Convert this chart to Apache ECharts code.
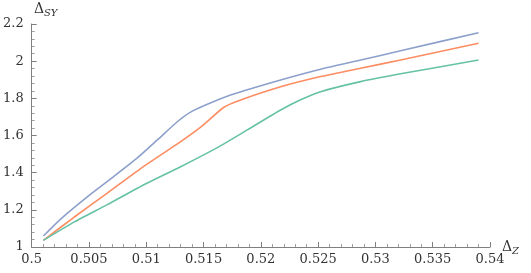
<!DOCTYPE html>
<html><head><meta charset="utf-8">
<script src="https://cdn.jsdelivr.net/npm/echarts@6/dist/echarts.min.js"></script>
<style>html,body{margin:0;padding:0;background:#fff}#c{width:531px;height:273px}</style>
</head><body><div id="c"></div>
<script>
const xTickLabels = ["0.5","0.505","0.51","0.515","0.52","0.525","0.53","0.535","0.54"];
const yTickLabels = ["1","1.2","1.4","1.6","1.8","2","2.2"];
const seriesNames = ["blue","orange","green"];
const blueX  = [0.50102,0.50253,0.50515,0.50718,0.50922,0.51097,0.51271,0.51387,0.51533,0.51736,0.52173,0.52522,0.52871,0.5322,0.539];
const blueY  = [1.059,1.150,1.284,1.380,1.479,1.576,1.674,1.726,1.768,1.818,1.899,1.957,2.006,2.056,2.153];
const orangeX = [0.50102,0.50369,0.5066,0.50951,0.513,0.51475,0.51678,0.51824,0.52173,0.52522,0.52871,0.5322,0.539];
const orangeY = [1.036,1.160,1.290,1.422,1.567,1.645,1.752,1.791,1.862,1.917,1.962,2.006,2.096];
const greenX = [0.50102,0.50369,0.5066,0.50951,0.513,0.5162,0.51882,0.52173,0.52347,0.52522,0.52871,0.5322,0.539];
const greenY = [1.036,1.134,1.228,1.326,1.432,1.535,1.630,1.737,1.792,1.836,1.890,1.932,2.006];
const colors = ["#8DA0CB","#FC8D62","#66C2A5"];

const zip = (xs, ys) => xs.map((x, i) => [x, ys[i]]);
const font = "DejaVu Serif";
const chart = echarts.init(document.getElementById('c'), null, {renderer: 'canvas'});
const axisCommon = {
  axisLine: {show: true, lineStyle: {color: '#7f7f7f', width: 1}},
  axisTick: {show: true, inside: true, length: 5, lineStyle: {color: '#7f7f7f'}},
  minorTick: {show: true, splitNumber: 5, length: 3, lineStyle: {color: '#9f9f9f'}},
  splitLine: {show: false},
  axisLabel: {color: '#333', fontFamily: font, fontSize: 13},
  nameMoveOverlap: false
};
chart.setOption({
  animation: false,
  textStyle: {fontFamily: font},
  grid: {left: 31, right: 41, top: 24, bottom: 26, containLabel: false},
  xAxis: Object.assign({}, axisCommon, {
    type: 'value', min: 0.5, max: 0.54, interval: 0.005,
    axisLabel: Object.assign({}, axisCommon.axisLabel, {margin: 6, formatter: (v) => xTickLabels[Math.round((v - 0.5) / 0.005)]}),
    name: '{a|Δ}{b|Z}', nameLocation: 'end', nameGap: 12,
    nameTextStyle: {align: 'left', verticalAlign: 'middle', rich: {a: {fontFamily: font, fontSize: 14, color: '#333'}, b: {fontFamily: font, fontSize: 10, fontStyle: 'italic', color: '#333', padding: [8, 0, 0, 0]}}}
  }),
  yAxis: Object.assign({}, axisCommon, {
    type: 'value', min: 1, max: 2.2, interval: 0.2,
    axisLabel: Object.assign({}, axisCommon.axisLabel, {margin: 8, formatter: (v) => yTickLabels[Math.round((v - 1) / 0.2)]}),
    name: '{a|Δ}{b|SY}', nameLocation: 'end', nameGap: 6,
    nameTextStyle: {verticalAlign: 'bottom', padding: [0, 0, 0, 28], rich: {a: {fontFamily: font, fontSize: 14, color: '#333'}, b: {fontFamily: font, fontSize: 10, fontStyle: 'italic', color: '#333', padding: [8, 0, 0, 0]}}}
  }),
  series: [
    {name: seriesNames[0], type: 'line', data: zip(blueX, blueY)},
    {name: seriesNames[1], type: 'line', data: zip(orangeX, orangeY)},
    {name: seriesNames[2], type: 'line', data: zip(greenX, greenY)}
  ].map((s, i) => Object.assign(s, {showSymbol: false, smooth: 0.2, lineStyle: {color: colors[i], width: 1.6}, itemStyle: {color: colors[i]}}))
});
</script></body></html>
